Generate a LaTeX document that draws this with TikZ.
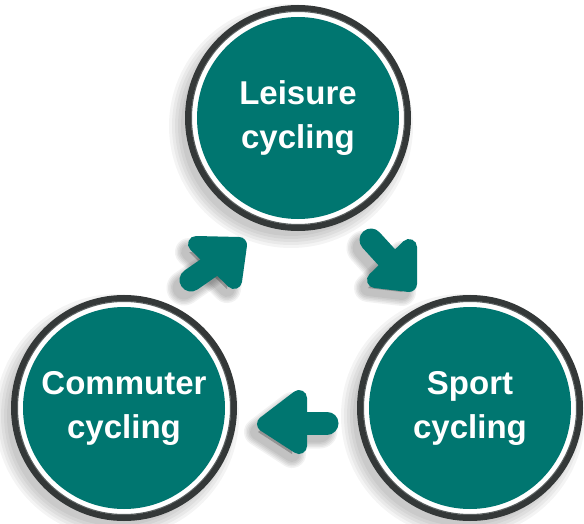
\documentclass[tikz,border=0pt]{standalone}
\usepackage{fontspec}
\setmainfont{Liberation Sans}
\usepackage{tikz}
\usetikzlibrary{arrows,%
                shapes,positioning}
\definecolor{cycteal}{RGB}{0,118,112}
\definecolor{rim}{RGB}{52,56,56}
\definecolor{rimlight}{RGB}{96,102,102}

\begin{document}
\begin{tikzpicture}[x=1pt,y=-1pt,
  hub/.style={circle,minimum size=220pt,inner sep=0pt,outer sep=0pt,
    fill=white,draw=rim,line width=6pt,text=white,align=center,
    font=\bfseries\fontsize{33}{44}\selectfont,
    path picture={\fill[cycteal] (path picture bounding box.center) circle (101);
      \draw[rimlight,line width=1.2pt] (path picture bounding box.center) circle (106.6);}},
  hubshade/.style={fill=black,opacity=0.045},
  shaft/.style={draw=cycteal,line width=23pt,line cap=round},
  head/.style={draw=cycteal,fill=cycteal,line width=16pt,line join=round},
  flowshade/.style={draw=black,fill=black,opacity=0.05,line cap=round,line join=round}]
\fill[white] (0,0) rectangle (584,524);
\useasboundingbox (0,0) rectangle (584,524);
\coordinate (pl) at (298,118);
\coordinate (ps) at (470,408);
\coordinate (pc) at (124,408);
\coordinate (a1s) at (191,280);
\coordinate (a1e) at (217,262);
\coordinate (a1l) at (196,244);
\coordinate (a1t) at (239,245);
\coordinate (a1r) at (234,281);
\coordinate (a2s) at (371,240);
\coordinate (a2e) at (392,263);
\coordinate (a2l) at (409,247);
\coordinate (a2t) at (409,284);
\coordinate (a2r) at (375,280);
\coordinate (a3s) at (327,423);
\coordinate (a3e) at (299,423);
\coordinate (a3l) at (299,398);
\coordinate (a3t) at (265,424);
\coordinate (a3r) at (299,446);
\foreach \k in {0,3,6,9,12}{
  \begin{scope}[transform canvas={shift={(-7,8)}}]
  \fill[hubshade] (pl) circle (110+\k);
  \fill[hubshade] (ps) circle (110+\k);
  \fill[hubshade] (pc) circle (110+\k);
  \draw[flowshade,line width=23+\k] (a1s) -- (a1e) (a2s) -- (a2e) (a3s) -- (a3e);
  \filldraw[flowshade,line width=16+\k] (a1l) -- (a1t) -- (a1r) -- cycle;
  \filldraw[flowshade,line width=16+\k] (a2l) -- (a2t) -- (a2r) -- cycle;
  \filldraw[flowshade,line width=16+\k] (a3l) -- (a3t) -- (a3r) -- cycle;
  \end{scope}
}
\node[hub] (leisure) at (pl) {Leisure\\cycling};
\node[hub] (sport) at (ps) {Sport\\cycling};
\node[hub] (commuter) at (pc) {Commuter\\cycling};
\draw[shaft] (a1s) -- (a1e);
\filldraw[head] (a1l) -- (a1t) -- (a1r) -- cycle;
\draw[shaft] (a2s) -- (a2e);
\filldraw[head] (a2l) -- (a2t) -- (a2r) -- cycle;
\draw[shaft] (a3s) -- (a3e);
\filldraw[head] (a3l) -- (a3t) -- (a3r) -- cycle;
\end{tikzpicture}
\end{document}
